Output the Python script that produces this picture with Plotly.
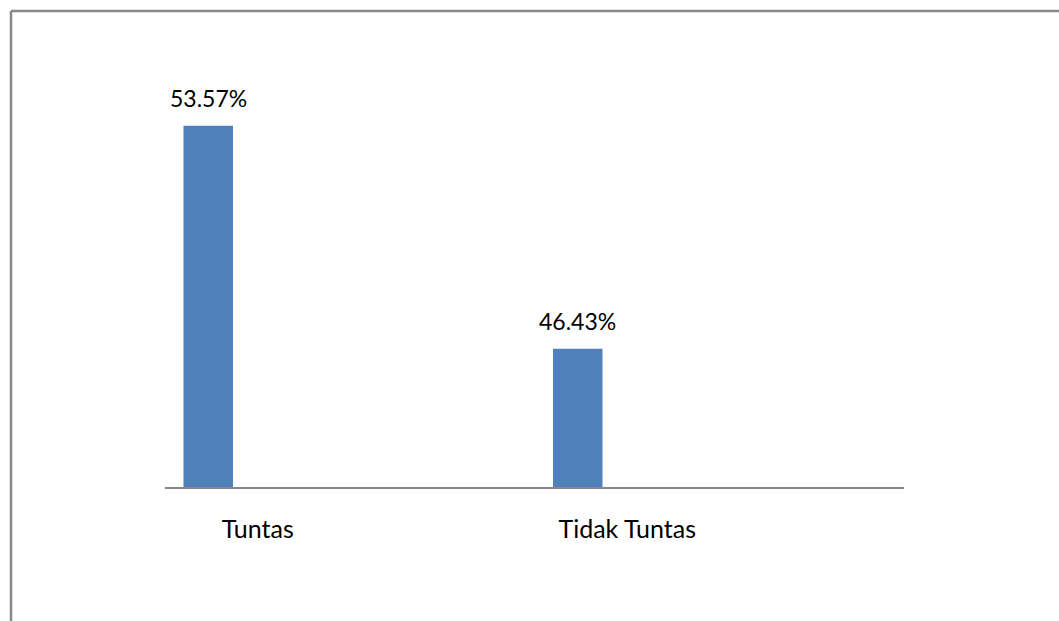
import plotly.graph_objects as go

categories = ["Tuntas", "Tidak Tuntas"]
values = [53.57, 46.43]
value_labels = ["53.57%", "46.43%"]

W, H = 1059, 621
L, R, T, B = 165, 155, 50, 134
BAR_OFFSET = -0.45
BAR_WIDTH = 0.134
FONT = "Lato, 'Open Sans', sans-serif"

fig = go.Figure()
fig.add_trace(go.Bar(
    x=categories, y=values,
    offset=BAR_OFFSET, width=BAR_WIDTH,
    marker=dict(color="#4F81BD", line=dict(width=0)),
    hoverinfo="skip",
))

annotations = []
for i, (v, t) in enumerate(zip(values, value_labels)):
    annotations.append(dict(
        x=i + BAR_OFFSET + BAR_WIDTH / 2, y=v, xref="x", yref="y",
        text=t, showarrow=False, yanchor="bottom", yshift=12,
        font=dict(family=FONT, size=23, color="#000000"),
    ))

pw = W - L - R
ph = H - T - B
x0 = (11 - L) / pw
y1 = (H - B - 11) / ph
shapes = [
    dict(type="line", xref="paper", yref="paper", x0=x0, x1=x0, y0=-1, y1=y1,
         line=dict(color="#878787", width=2.5)),
    dict(type="line", xref="paper", yref="paper", x0=x0, x1=2, y0=y1, y1=y1,
         line=dict(color="#878787", width=2.5)),
]

fig.update_layout(
    width=W, height=H,
    margin=dict(l=L, r=R, t=T, b=B),
    paper_bgcolor="white", plot_bgcolor="white",
    showlegend=False,
    annotations=annotations,
    shapes=shapes,
    font=dict(family=FONT, size=23, color="#000000"),
    xaxis=dict(
        type="category", range=[-0.5, 1.5],
        showline=True, linecolor="#878787", linewidth=2,
        ticks="", showgrid=False, zeroline=False,
        ticklabelshift=-92, ticklabelstandoff=19,
        tickfont=dict(family=FONT, size=25, color="#000000"),
    ),
    yaxis=dict(
        range=[42, 56], visible=False, showgrid=False, zeroline=False,
    ),
)

fig.write_html(
    "out.html",
    config={"displayModeBar": False, "staticPlot": True},
    post_script="document.body.style.margin='0px';document.body.style.overflow='hidden';",
)
